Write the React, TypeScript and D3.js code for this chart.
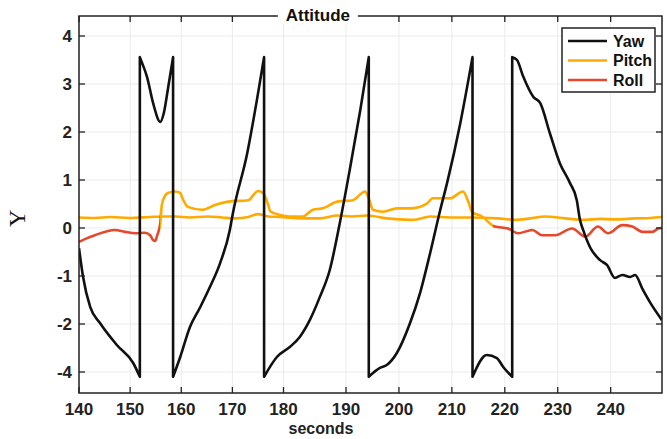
import React from "react";
import * as d3 from "d3";

// ---------- data ----------
const yawT = [140, 140.8, 142.2, 144.1, 147.4, 150.6, 151.9, 151.9, 152.3, 153.3, 154.5, 155.9, 156.6, 157.4, 158.4, 158.4, 159.8, 161.7, 163.7, 165.6, 167.6, 169.5, 170.1, 172.9, 174.8, 176.2, 176.2, 178.7, 181.0, 182.6, 184.2, 185.8, 187.4, 189.0, 190.8, 192.7, 194.3, 194.3, 196.4, 197.7, 199.6, 202.1, 204.0, 205.9, 207.8, 209.1, 211.6, 213.9, 213.9, 216.6, 218.5, 219.7, 221.4, 221.4, 222.3, 223.5, 225.4, 226.7, 228.5, 230.4, 232.3, 233.6, 234.2, 234.8, 236.1, 238.0, 239.3, 240.8, 242.2, 243.7, 244.6, 246.1, 247.5, 249.7];
const yawV = [-0.42, -1.02, -1.65, -1.98, -2.875, -3.625, -4.2, 3.56, 3.45, 3.15, 2.6, 2.21, 2.4, 2.9, 3.56, -4.2, -3.375, -2.125, -1.65, -1.23, -0.73, -0.04, 0.31, 1.56, 2.67, 3.56, -4.2, -3.375, -2.96, -2.54, -1.92, -1.44, -0.875, 0.1, 1.27, 2.46, 3.56, -4.2, -3.83, -3.71, -3.21, -1.98, -1.35, -0.52, 0.375, 0.94, 2.19, 3.56, -4.2, -3.29, -3.42, -3.79, -4.2, 3.56, 3.5, 3.15, 2.73, 2.6, 1.98, 1.35, 0.94, 0.58, 0.17, -0.04, -0.4, -0.67, -0.77, -1.04, -0.98, -1.02, -0.98, -1.29, -1.56, -1.92];

const pitchT = [140, 143.1, 146.1, 150.0, 153.9, 156.8, 158.8, 161.7, 165.2, 168.0, 170.5, 173.1, 175.0, 177.0, 179.3, 183.1, 185.8, 188.6, 191.1, 194.0, 197.7, 200.2, 202.7, 205.9, 209.7, 213.4, 218.7, 221.9, 224.8, 227.6, 231.4, 235.2, 238.0, 240.8, 244.6, 247.5, 249.7];
const pitchV = [0.22, 0.21, 0.23, 0.21, 0.23, 0.24, 0.24, 0.22, 0.24, 0.22, 0.2, 0.23, 0.29, 0.24, 0.23, 0.2, 0.2, 0.26, 0.24, 0.26, 0.2, 0.18, 0.17, 0.24, 0.22, 0.22, 0.2, 0.17, 0.2, 0.24, 0.2, 0.17, 0.19, 0.18, 0.2, 0.21, 0.23];

const rollT = [140, 141.6, 143.1, 147.0, 149.0, 151.0, 152.9, 153.9, 154.5, 154.9, 155.3, 155.9, 156.2, 156.8, 157.4, 158.8, 159.8, 160.2, 161.3, 164.1, 166.6, 169.2, 173.1, 175.0, 176.0, 177.0, 177.4, 179.3, 181.0, 183.1, 184.7, 186.3, 188.6, 191.3, 193.6, 194.2, 195.1, 197.0, 199.6, 202.1, 205.3, 206.4, 209.7, 212.1, 213.1, 213.8, 215.7, 218.1, 220.6, 222.5, 225.2, 227.0, 229.5, 232.7, 235.2, 237.6, 239.5, 242.2, 244.1, 246.0, 247.9, 249.0, 249.7];
const rollV = [-0.29, -0.21, -0.15, -0.04, -0.08, -0.11, -0.1, -0.15, -0.25, -0.27, -0.15, 0.1, 0.48, 0.67, 0.73, 0.76, 0.73, 0.63, 0.44, 0.38, 0.48, 0.55, 0.58, 0.77, 0.73, 0.48, 0.35, 0.27, 0.24, 0.24, 0.38, 0.41, 0.55, 0.58, 0.76, 0.65, 0.38, 0.34, 0.41, 0.41, 0.51, 0.62, 0.62, 0.76, 0.55, 0.34, 0.24, 0.03, -0.01, -0.11, -0.04, -0.15, -0.15, -0.01, -0.18, 0.03, -0.11, 0.06, 0.03, -0.08, -0.08, -0.01, 0.0];
// roll is drawn orange between these times, red outside
const rollOrangeSpan = [155.9, 217.8];

const xTicks = [140, 150, 160, 170, 180, 190, 200, 210, 220, 230, 240];
const yTicks = [4, 3, 2, 1, 0, -1, -2, -4];
const yTickLabels = ["4", "3", "2", "1", "0", "-1", "-2", "-4"];

const seriesNames = ["Yaw", "Pitch", "Roll"];
const seriesColors = ["#111111", "#FFAA00", "#E5482A"];

const title = "Attitude";
const xLabel = "seconds";
const yLabel = "Y";

// ---------- layout ----------
const W = 667;
const H = 439;
const M = { left: 79, right: 5, top: 16, bottom: 46 };
const iw = W - M.left - M.right;
const ih = H - M.top - M.bottom;

// the reference axes are non-uniform; piecewise linear scales reproduce them
const x = d3
  .scaleLinear()
  .domain([140, 180, 190, 249.7])
  .range([0, iw * 0.3508, iw * 0.458, iw]);
const y = d3
  .scaleLinear()
  .domain([-4.875, -2, 4.417])
  .range([ih, ih * 0.817, 0]);

const font = "Arial, 'Liberation Sans', Helvetica, sans-serif";

type P = [number, number];

// smooth each continuous run, join runs with straight (vertical) jumps
function wrappedPath(pts: P[]): string {
  const runs: P[][] = [];
  let cur: P[] = [];
  pts.forEach((p, i) => {
    if (i > 0 && p[0] === pts[i - 1][0]) {
      runs.push(cur);
      cur = [];
    }
    cur.push(p);
  });
  runs.push(cur);
  const gen = d3
    .line<P>()
    .x((d) => x(d[0]))
    .y((d) => y(d[1]))
    .curve(d3.curveMonotoneX);
  return runs
    .map((r, i) => {
      const d = gen(r) || "";
      return i === 0 ? d : "L" + d.slice(1);
    })
    .join("");
}

export default function App() {
  const smooth = d3
    .line<P>()
    .x((d) => x(d[0]))
    .y((d) => y(d[1]))
    .curve(d3.curveMonotoneX);

  const yaw = yawT.map((t, i) => [t, yawV[i]] as P);
  const pitch = pitchT.map((t, i) => [t, pitchV[i]] as P);
  const roll = rollT.map((t, i) => [t, rollV[i]] as P);

  const g0 = x(rollOrangeSpan[0]) / iw;
  const g1 = x(rollOrangeSpan[1]) / iw;

  const titleX = x(185.5);
  const titleW = 80;

  const legX = iw - 100;
  const legY = 12;

  return (
    <svg
      width={W}
      height={H}
      style={{ position: "absolute", left: 0, top: 0, background: "#fff" }}
      fontFamily={font}
    >
      <defs>
        <linearGradient id="rollGrad" gradientUnits="userSpaceOnUse" x1={0} y1={0} x2={iw} y2={0}>
          <stop offset={0} stopColor={seriesColors[2]} />
          <stop offset={g0} stopColor={seriesColors[2]} />
          <stop offset={g0} stopColor={seriesColors[1]} />
          <stop offset={g1} stopColor={seriesColors[1]} />
          <stop offset={g1} stopColor={seriesColors[2]} />
          <stop offset={1} stopColor={seriesColors[2]} />
        </linearGradient>
        <clipPath id="plotClip">
          <rect x={0} y={0} width={iw} height={ih} />
        </clipPath>
      </defs>
      <g transform={`translate(${M.left},${M.top})`}>
        {/* grid */}
        {xTicks.map((t) => (
          <line key={"gx" + t} x1={x(t)} x2={x(t)} y1={0} y2={ih} stroke="#ebebeb" strokeWidth={1} />
        ))}
        {yTicks.map((t) => (
          <line key={"gy" + t} x1={0} x2={iw} y1={y(t)} y2={y(t)} stroke="#ebebeb" strokeWidth={1} />
        ))}

        {/* series */}
        <g clipPath="url(#plotClip)">
          <path d={smooth(pitch) || ""} fill="none" stroke={seriesColors[1]} strokeWidth={2.6} strokeLinejoin="round" />
          <path d={smooth(roll) || ""} fill="none" stroke="url(#rollGrad)" strokeWidth={2.6} strokeLinejoin="round" />
          <path d={wrappedPath(yaw)} fill="none" stroke={seriesColors[0]} strokeWidth={2.6} strokeLinejoin="round" />
        </g>

        {/* axes box */}
        <rect x={0} y={0} width={iw} height={ih} fill="none" stroke="#222" strokeWidth={1.5} />
        {xTicks.map((t) => (
          <g key={"tx" + t}>
            <line x1={x(t)} x2={x(t)} y1={ih} y2={ih - 6} stroke="#222" strokeWidth={1.3} />
            <line x1={x(t)} x2={x(t)} y1={0} y2={6} stroke="#222" strokeWidth={1.3} />
            <text x={x(t)} y={ih + 22} textAnchor="middle" fontSize={17} fontWeight="bold" fill="#222">
              {t}
            </text>
          </g>
        ))}
        {yTicks.map((t, i) => (
          <g key={"ty" + t}>
            <line x1={0} x2={6} y1={y(t)} y2={y(t)} stroke="#222" strokeWidth={1.3} />
            <line x1={iw} x2={iw - 6} y1={y(t)} y2={y(t)} stroke="#222" strokeWidth={1.3} />
            <text x={-7} y={y(t)} dy="0.36em" textAnchor="end" fontSize={17} fontWeight="bold" fill="#222">
              {yTickLabels[i]}
            </text>
          </g>
        ))}

        {/* title over top axis */}
        <rect x={titleX - titleW / 2} y={-10} width={titleW} height={18} fill="#fff" />
        <text x={titleX} y={5} textAnchor="middle" fontSize={17} fontWeight="bold" fill="#111">
          {title}
        </text>

        {/* axis labels */}
        <text x={x(186)} y={ih + 41} textAnchor="middle" fontSize={16} fontWeight="bold" fill="#222">
          {xLabel}
        </text>
        <text
          transform={`translate(${-54},${y(0.2)}) rotate(-90)`}
          textAnchor="middle"
          fontFamily="'Liberation Serif', 'Times New Roman', serif"
          fontSize={24}
          fill="#111"
        >
          {yLabel}
        </text>

        {/* legend */}
        <g transform={`translate(${legX},${legY})`}>
          <rect x={0} y={0} width={93} height={64} fill="#fff" stroke="#222" strokeWidth={1.5} />
          {seriesNames.map((n, i) => (
            <g key={n} transform={`translate(0,${13 + i * 19.5})`}>
              <line x1={6} x2={45} y1={0} y2={0} stroke={seriesColors[i]} strokeWidth={2.6} />
              <text x={51} y={0} dy="0.36em" fontSize={16} fontWeight="bold" fill="#111">
                {n}
              </text>
            </g>
          ))}
        </g>
      </g>
    </svg>
  );
}
